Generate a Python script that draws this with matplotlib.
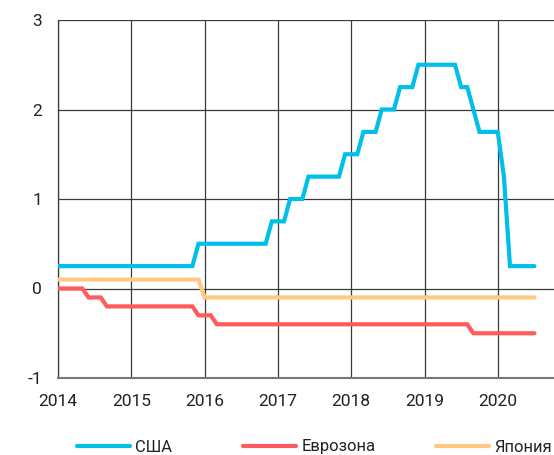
import matplotlib
matplotlib.use("Agg")
import matplotlib.pyplot as plt
import pandas as pd

plt.rcParams['font.family'] = ['Roboto', 'DejaVu Sans']
plt.rcParams['axes.unicode_minus'] = False

# Monthly observations, Jan 2014 .. Jul 2020
dates = pd.date_range("2014-01-01", periods=79, freq="MS")

usa = [0.25, 0.25, 0.25, 0.25, 0.25, 0.25, 0.25, 0.25, 0.25, 0.25, 0.25, 0.25,
       0.25, 0.25, 0.25, 0.25, 0.25, 0.25, 0.25, 0.25, 0.25, 0.25, 0.25, 0.5,
       0.5, 0.5, 0.5, 0.5, 0.5, 0.5, 0.5, 0.5, 0.5, 0.5, 0.5, 0.75,
       0.75, 0.75, 1.0, 1.0, 1.0, 1.25, 1.25, 1.25, 1.25, 1.25, 1.25, 1.5,
       1.5, 1.5, 1.75, 1.75, 1.75, 2.0, 2.0, 2.0, 2.25, 2.25, 2.25, 2.5,
       2.5, 2.5, 2.5, 2.5, 2.5, 2.5, 2.25, 2.25, 2.0, 1.75, 1.75, 1.75,
       1.75, 1.25, 0.25, 0.25, 0.25, 0.25, 0.25]
eurozone = [0.0, 0.0, 0.0, 0.0, 0.0, -0.1, -0.1, -0.1, -0.2, -0.2, -0.2, -0.2,
            -0.2, -0.2, -0.2, -0.2, -0.2, -0.2, -0.2, -0.2, -0.2, -0.2, -0.2, -0.3,
            -0.3, -0.3, -0.4, -0.4, -0.4, -0.4, -0.4, -0.4, -0.4, -0.4, -0.4, -0.4,
            -0.4, -0.4, -0.4, -0.4, -0.4, -0.4, -0.4, -0.4, -0.4, -0.4, -0.4, -0.4,
            -0.4, -0.4, -0.4, -0.4, -0.4, -0.4, -0.4, -0.4, -0.4, -0.4, -0.4, -0.4,
            -0.4, -0.4, -0.4, -0.4, -0.4, -0.4, -0.4, -0.4, -0.5, -0.5, -0.5, -0.5,
            -0.5, -0.5, -0.5, -0.5, -0.5, -0.5, -0.5]
japan = [0.1, 0.1, 0.1, 0.1, 0.1, 0.1, 0.1, 0.1, 0.1, 0.1, 0.1, 0.1,
         0.1, 0.1, 0.1, 0.1, 0.1, 0.1, 0.1, 0.1, 0.1, 0.1, 0.1, 0.1,
         -0.1, -0.1, -0.1, -0.1, -0.1, -0.1, -0.1, -0.1, -0.1, -0.1, -0.1, -0.1,
         -0.1, -0.1, -0.1, -0.1, -0.1, -0.1, -0.1, -0.1, -0.1, -0.1, -0.1, -0.1,
         -0.1, -0.1, -0.1, -0.1, -0.1, -0.1, -0.1, -0.1, -0.1, -0.1, -0.1, -0.1,
         -0.1, -0.1, -0.1, -0.1, -0.1, -0.1, -0.1, -0.1, -0.1, -0.1, -0.1, -0.1,
         -0.1, -0.1, -0.1, -0.1, -0.1, -0.1, -0.1]

series_names = ["США", "Еврозона", "Япония"]
series_colors = ["#00BFEB", "#FF5A5C", "#FFC985"]
x_ticks = [2014, 2015, 2016, 2017, 2018, 2019, 2020]
y_ticks = [-1, 0, 1, 2, 3]

xs = [d.year + (d.month - 1) / 12 for d in dates]

W, H = 554, 455
fig = plt.figure(figsize=(W / 100, H / 100), dpi=100)
ax = fig.add_axes([58 / W, 1 - 378 / H, (W - 58) / W, (378 - 20) / H])

grid_c = "#3a3a3a"
for t in x_ticks:
    ax.axvline(t, color=grid_c, lw=0.9, zorder=1)
for t in y_ticks:
    ax.axhline(t, color=grid_c, lw=0.9, zorder=1)

handles = []
for vals, name, col in zip([usa, eurozone, japan], series_names, series_colors):
    ln, = ax.plot(xs, vals, color=col, lw=3.0, solid_joinstyle='miter',
                  solid_capstyle='round', zorder=3, label=name)
    handles.append(ln)

ax.set_xlim(2014, 2014 + (W - 58) / 73.3)
ax.set_ylim(-1, 3)
ax.set_xticks(x_ticks)
ax.set_xticklabels([str(t) for t in x_ticks])
ax.set_yticks(y_ticks)
ax.set_yticklabels([str(t) for t in y_ticks])
ax.tick_params(axis='both', length=0, labelsize=12.5, colors="#222222")
ax.tick_params(axis='x', pad=11.5)
ax.tick_params(axis='y', pad=11.5)
for s in ["top", "right"]:
    ax.spines[s].set_visible(False)
ax.spines["left"].set_color(grid_c)
ax.spines["left"].set_linewidth(0.9)
ax.spines["bottom"].set_color("#777777")
ax.spines["bottom"].set_linewidth(1.5)

legend_x = [77, 243, 436]
for h, lx in zip(handles, legend_x):
    lg = fig.legend(handles=[h], labels=[h.get_label()], loc='center left',
                    bbox_to_anchor=(lx / W, 1 - 447 / H), frameon=False,
                    fontsize=12, handlelength=3.2, handletextpad=0.3,
                    borderpad=0, borderaxespad=0)
    for t in lg.get_texts():
        t.set_color("#222222")

fig.savefig("out.png", dpi=100)
